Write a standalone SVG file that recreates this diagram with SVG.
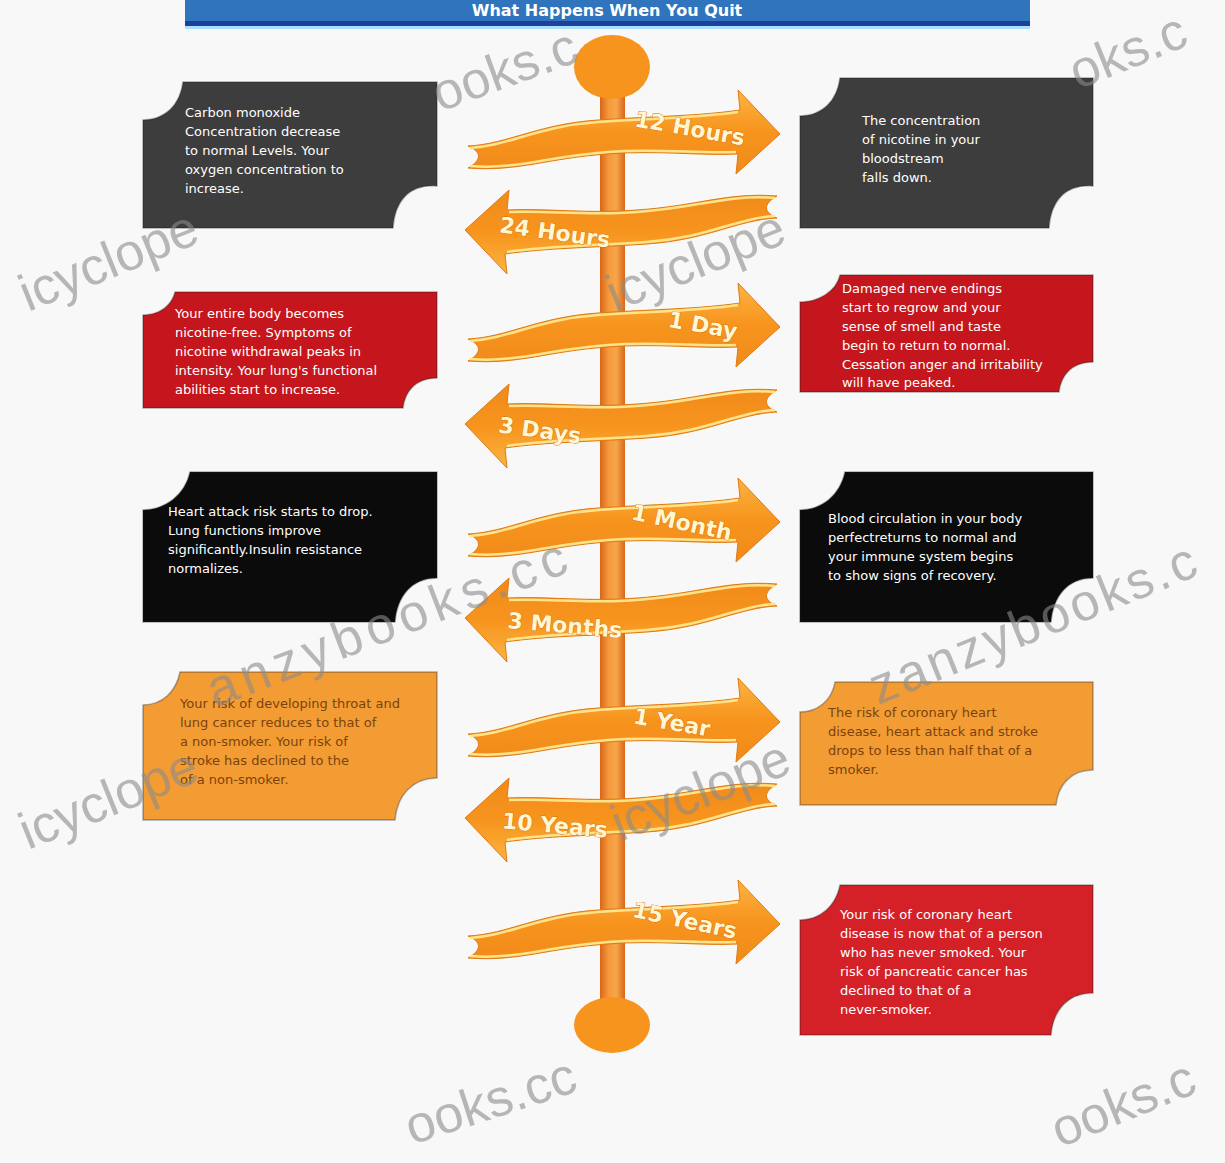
<svg xmlns="http://www.w3.org/2000/svg" xmlns:xlink="http://www.w3.org/1999/xlink" width="1225" height="1163" viewBox="0 0 1225 1163">
<defs>
<linearGradient id="ribG" x1="0" y1="0" x2="0" y2="1">
<stop offset="0" stop-color="#fbb443"/>
<stop offset="0.5" stop-color="#f7941d"/>
<stop offset="1" stop-color="#f08a1a"/>
</linearGradient>
<linearGradient id="poleG" x1="0" y1="0" x2="1" y2="0">
<stop offset="0" stop-color="#d9661a"/>
<stop offset="0.35" stop-color="#f59a3c"/>
<stop offset="0.65" stop-color="#f7a64c"/>
<stop offset="1" stop-color="#d9661a"/>
</linearGradient>
<path id="rib" d="M0,56 C40,54 70,34 130,30 C190,26 230,26 272,20 L270,0 L312,44 L268,84 L270,64 C230,66 190,60 140,64 C80,68 50,82 0,78 C14,70 14,62 0,56 Z"/>
<path id="ribHi" d="M2,58 C40,56 70,36 130,32 C190,28 230,28 270,22 M2,76 C50,80 80,66 140,62 C190,58 230,64 268,62"/>
</defs>
<style>
.bg{fill:#f8f8f8}
.rib{fill:url(#ribG);stroke:#e07a14;stroke-width:1}
.hi{fill:none;stroke:#ffe38a;stroke-width:2.5}
.lbl{font-family:"DejaVu Sans",sans-serif;font-weight:bold;font-size:22px;fill:#fff6d2;stroke:#d46a0c;stroke-width:0.8;paint-order:stroke}
.box{stroke:#1e1e1e;stroke-opacity:0.35;stroke-width:1.5}
.gray{fill:#3d3d3d}
.red{fill:#c4161c}
.red2{fill:#d42027}
.blk{fill:#0b0b0b}
.org{fill:#f39c34}
.t{font-family:"DejaVu Sans",sans-serif;font-size:13px;fill:#ffffff}
.td{font-family:"DejaVu Sans",sans-serif;font-size:13px;fill:#7a430c}
.wm{font-family:"Liberation Sans",Arial,sans-serif;font-size:52px;fill:#8a8a8a;fill-opacity:0.6}
</style>
<rect class="bg" x="0" y="0" width="1225" height="1163"/>

<g id="title">
<rect x="185" y="-10" width="845" height="33" fill="#2f74bd"/>
<rect x="185" y="21" width="845" height="5" fill="#1d3f9e"/>
<rect x="185" y="26" width="845" height="3" fill="#a8e2ff"/>
<text x="607" y="16" text-anchor="middle" font-family="DejaVu Sans,sans-serif" font-weight="bold" font-size="16" fill="#ffffff">What Happens When You Quit</text>
</g>

<g id="timeline">
<rect x="600" y="70" width="25" height="955" fill="url(#poleG)"/>
<ellipse cx="612" cy="67" rx="38" ry="32" fill="#f7941d"/>
<ellipse cx="612" cy="1025" rx="38" ry="28" fill="#f7941d"/>
</g>

<g id="connectors">
<g id="rib-12h" transform="translate(468,90)"><use href="#rib" class="rib"/><use href="#ribHi" class="hi"/></g>
<g id="rib-24h" transform="translate(777,274) scale(-1,-1)"><use href="#rib" class="rib"/><use href="#ribHi" class="hi"/></g>
<g id="rib-1d" transform="translate(468,283)"><use href="#rib" class="rib"/><use href="#ribHi" class="hi"/></g>
<g id="rib-3d" transform="translate(777,468) scale(-1,-1)"><use href="#rib" class="rib"/><use href="#ribHi" class="hi"/></g>
<g id="rib-1m" transform="translate(468,478)"><use href="#rib" class="rib"/><use href="#ribHi" class="hi"/></g>
<g id="rib-3m" transform="translate(777,662) scale(-1,-1)"><use href="#rib" class="rib"/><use href="#ribHi" class="hi"/></g>
<g id="rib-1y" transform="translate(468,678)"><use href="#rib" class="rib"/><use href="#ribHi" class="hi"/></g>
<g id="rib-10y" transform="translate(777,862) scale(-1,-1)"><use href="#rib" class="rib"/><use href="#ribHi" class="hi"/></g>
<g id="rib-15y" transform="translate(468,880)"><use href="#rib" class="rib"/><use href="#ribHi" class="hi"/></g>
</g>

<g id="labels">
<text class="lbl" x="690" y="136" text-anchor="middle" transform="rotate(10 690 128)">12 Hours</text>
<text class="lbl" x="555" y="240" text-anchor="middle" transform="rotate(8 555 232)">24 Hours</text>
<text class="lbl" x="703" y="333" text-anchor="middle" transform="rotate(10 703 325)">1 Day</text>
<text class="lbl" x="540" y="438" text-anchor="middle" transform="rotate(8 540 430)">3 Days</text>
<text class="lbl" x="682" y="530" text-anchor="middle" transform="rotate(12 682 522)">1 Month</text>
<text class="lbl" x="565" y="633" text-anchor="middle" transform="rotate(5 565 625)">3 Months</text>
<text class="lbl" x="672" y="730" text-anchor="middle" transform="rotate(10 672 722)">1 Year</text>
<text class="lbl" x="555" y="833" text-anchor="middle" transform="rotate(5 555 825)">10 Years</text>
<text class="lbl" x="685" y="928" text-anchor="middle" transform="rotate(12 685 920)">15 Years</text>
</g>

<g id="box-l1">
<path class="box gray" d="M183,82 H437 V186 C410,184 395,200 393,228 H143 V120 C165,120 180,105 183,82 Z"/>
<text class="t" x="185" y="117">Carbon monoxide</text>
<text class="t" x="185" y="136">Concentration decrease</text>
<text class="t" x="185" y="155">to normal Levels. Your</text>
<text class="t" x="185" y="174">oxygen concentration to</text>
<text class="t" x="185" y="193">increase.</text>
</g>

<g id="box-r1">
<path class="box gray" d="M840,78 H1093 V186 C1066,184 1051,200 1049,228 H800 V116 C822,116 837,101 840,78 Z"/>
<text class="t" x="862" y="125">The concentration</text>
<text class="t" x="862" y="144">of nicotine in your</text>
<text class="t" x="862" y="163">bloodstream</text>
<text class="t" x="862" y="182">falls down.</text>
</g>

<g id="box-l2">
<path class="box red" d="M175,292 H437 V378 C415,378 405,392 403,408 H143 V315 C160,315 172,305 175,292 Z"/>
<text class="t" x="175" y="318">Your entire body becomes</text>
<text class="t" x="175" y="337">nicotine-free.  Symptoms of</text>
<text class="t" x="175" y="356">nicotine withdrawal peaks in</text>
<text class="t" x="175" y="375">intensity. Your lung's functional</text>
<text class="t" x="175" y="394">abilities start to increase.</text>
</g>

<g id="box-r2">
<path class="box red" d="M840,275 H1093 V362 C1071,362 1061,376 1059,392 H800 V302 C818,302 836,292 840,275 Z"/>
<text class="t" x="842" y="293">Damaged nerve endings</text>
<text class="t" x="842" y="312">start to regrow and your</text>
<text class="t" x="842" y="331">sense of smell and taste</text>
<text class="t" x="842" y="350">begin to return to normal.</text>
<text class="t" x="842" y="369">Cessation anger and irritability</text>
<text class="t" x="842" y="387">will have peaked.</text>
</g>

<g id="box-l3">
<path class="box blk" d="M190,472 H437 V578 C412,578 397,596 395,622 H143 V510 C165,510 185,495 190,472 Z"/>
<text class="t" x="168" y="516">Heart attack risk starts to drop.</text>
<text class="t" x="168" y="535">Lung functions improve</text>
<text class="t" x="168" y="554">significantly.Insulin resistance</text>
<text class="t" x="168" y="573">normalizes.</text>
</g>

<g id="box-r3">
<path class="box blk" d="M845,472 H1093 V578 C1068,578 1053,596 1051,622 H800 V510 C822,510 840,495 845,472 Z"/>
<text class="t" x="828" y="523">Blood circulation in your body</text>
<text class="t" x="828" y="542">perfectreturns to normal and</text>
<text class="t" x="828" y="561">your immune system begins</text>
<text class="t" x="828" y="580">to show signs of recovery.</text>
</g>

<g id="box-l4">
<path class="box org" d="M180,672 H437 V778 C412,778 397,796 395,820 H143 V705 C162,705 176,692 180,672 Z"/>
<text class="td" x="180" y="708">Your risk of developing throat and</text>
<text class="td" x="180" y="727">lung cancer reduces to that of</text>
<text class="td" x="180" y="746">a non-smoker. Your risk of</text>
<text class="td" x="180" y="765">stroke has declined to the</text>
<text class="td" x="180" y="784">of a non-smoker.</text>
</g>

<g id="box-r4">
<path class="box org" d="M835,682 H1093 V770 C1070,770 1058,786 1056,805 H800 V712 C818,712 832,700 835,682 Z"/>
<text class="td" x="828" y="717">The risk of coronary heart</text>
<text class="td" x="828" y="736">disease, heart attack and stroke</text>
<text class="td" x="828" y="755">drops to less than half that of a</text>
<text class="td" x="828" y="774">smoker.</text>
</g>

<g id="box-r5">
<path class="box red2" d="M840,885 H1093 V993 C1068,993 1053,1010 1051,1035 H800 V920 C820,920 836,906 840,885 Z"/>
<text class="t" x="840" y="919">Your risk of coronary heart</text>
<text class="t" x="840" y="938">disease is now that of a person</text>
<text class="t" x="840" y="957">who has never smoked. Your</text>
<text class="t" x="840" y="976">risk of pancreatic cancer has</text>
<text class="t" x="840" y="995">declined to that of a</text>
<text class="t" x="840" y="1014">never-smoker.</text>
</g>

<g id="watermarks">
<text class="wm" transform="translate(440,112) rotate(-20)">ooks.c</text>
<text class="wm" transform="translate(1078,90) rotate(-22)">oks.c</text>
<text class="wm" transform="translate(28,312) rotate(-22)">icyclope</text>
<text class="wm" transform="translate(615,312) rotate(-22)">icyclope</text>
<text class="wm" letter-spacing="6" transform="translate(215,708) rotate(-21)">anzybooks.cc</text>
<text class="wm" letter-spacing="3" transform="translate(878,705) rotate(-22)">zanzybooks.c</text>
<text class="wm" transform="translate(28,850) rotate(-22)">icyclope</text>
<text class="wm" transform="translate(620,842) rotate(-22)">icyclope</text>
<text class="wm" transform="translate(412,1145) rotate(-18)">ooks.cc</text>
<text class="wm" transform="translate(1060,1148) rotate(-22)">ooks.c</text>
</g>
</svg>
